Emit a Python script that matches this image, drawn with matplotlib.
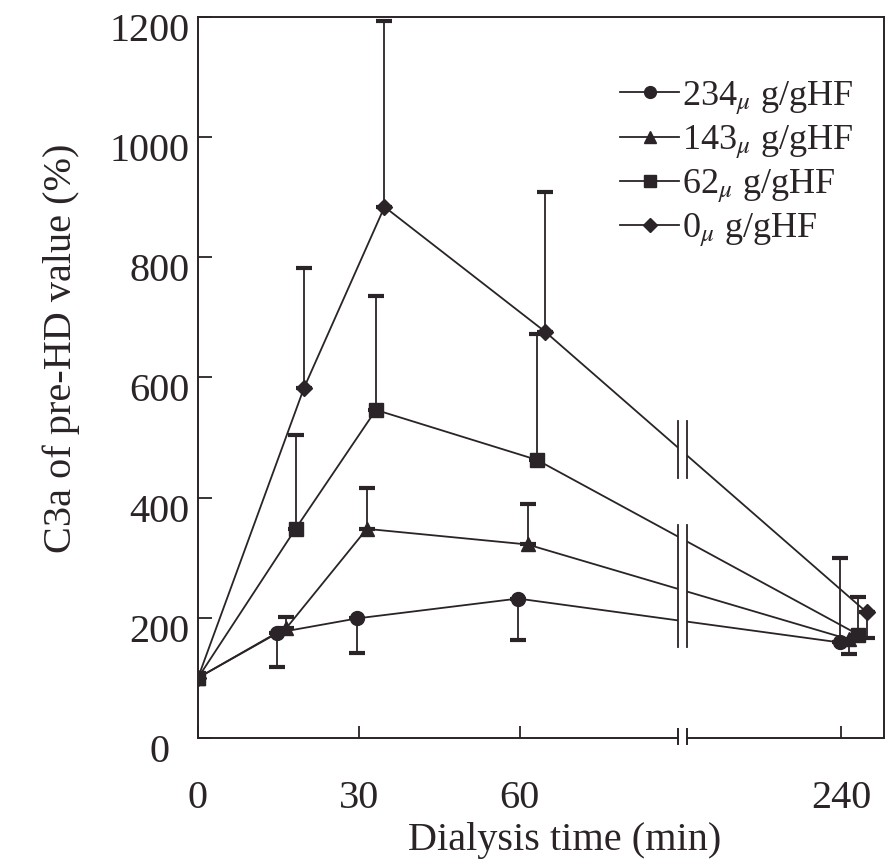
import numpy as np
import matplotlib
matplotlib.use("Agg")
import matplotlib.pyplot as plt
import matplotlib.transforms as mtransforms
from matplotlib.lines import Line2D

plt.rcParams['font.family'] = ['Liberation Serif', 'DejaVu Serif']
plt.rcParams['mathtext.fontset'] = 'stix'

# sampling times (min)
times = [0, 15, 30, 60, 240]

# C3a (% of pre-HD) per heparin dose
c3a_234 = [100, 175, 199, 232, 159]
c3a_143 = [100, 183, 348, 322, 164]
c3a_62 = [100, 348, 546, 463, 172]
c3a_0 = [100, 583, 884, 676, 209]

# one-sided SD bars (lower, upper)
err_234 = ([0, 57, 57, 69, 0], [0, 0, 0, 0, 141])
err_143 = ([0, 0, 0, 0, 25], [0, 19, 68, 68, 0])
err_62 = ([0, 0, 0, 0, 0], [0, 157, 189, 210, 63])
err_0 = ([0, 0, 0, 0, 42], [0, 200, 309, 232, 0])

labels = [r'234$_{\mu}$ g/gHF', r'143$_{\mu}$ g/gHF', r'62$_{\mu}$ g/gHF', r'0$_{\mu}$ g/gHF']
xtick_vals = [0, 30, 60, 240]
ytick_vals = [0, 200, 400, 600, 800, 1000, 1200]

INK = '#2a2327'
BRK_L, BRK_R = 89.6, 91.3
SHIFT_240 = 120  # 240 min is drawn at position 120 after the axis break


def to_pos(t, dodge):
    t = np.asarray(t, dtype=float)
    pos = np.where(t > 100, t - SHIFT_240, t)
    return pos + np.where(t > 0, dodge, 0.0)


fig = plt.figure(figsize=(8.89, 8.63), dpi=100)
ax = fig.add_axes([0.2227, 0.1449, 0.7717, 0.8354])

series = [
    (c3a_234, err_234, 'o', 10, -0.3),
    (c3a_143, err_143, '^', 10, 1.5),
    (c3a_62, err_62, 's', 10.5, 3.2),
    (c3a_0, err_0, 'D', 8, 4.8),
]

handles = []
for (vals, err, mk, ms, dodge), lab in zip(series, labels):
    x = to_pos(times, dodge)
    ax.plot(x, vals, color=INK, lw=1.3, zorder=2)
    lo = np.array(err[0], dtype=float)
    hi = np.array(err[1], dtype=float)
    mask = (lo + hi) > 0
    ax.errorbar(x[mask], np.array(vals)[mask], yerr=[lo[mask], hi[mask]],
                fmt='none', ecolor=INK, elinewidth=1.3, capsize=5.8, capthick=3.0,
                zorder=2)
    ax.plot(x, vals, ls='none', marker=mk, ms=ms, color=INK, mec=INK, zorder=4)
    handles.append(Line2D([], [], color=INK, lw=1.3, marker=mk, ms=ms * 0.85, mec=INK))

# axis break: white gap through the lines, then double bars
ax.axvspan(BRK_L, BRK_R, ymin=0.02, ymax=0.95, color='white', lw=0, zorder=3)
for xb in (BRK_L, BRK_R):
    ax.plot([xb, xb], [433, 527], color=INK, lw=1.3, zorder=3.5)
    ax.plot([xb, xb], [152, 354], color=INK, lw=1.3, zorder=3.5)

ax.set_xlim(0, 128)
ax.set_ylim(0, 1200)

# bottom spine redrawn with the break
ax.spines['bottom'].set_visible(False)
trans = mtransforms.blended_transform_factory(ax.transData, ax.transAxes)
ax.plot([0, BRK_L], [0, 0], color=INK, lw=1.4, transform=trans, clip_on=False)
ax.plot([BRK_R, 128], [0, 0], color=INK, lw=1.4, transform=trans, clip_on=False)
for xb in (BRK_L, BRK_R):
    ax.plot([xb, xb], [-0.009, 0.012], color=INK, lw=1.4, transform=trans, clip_on=False)

for side in ('left', 'top', 'right'):
    ax.spines[side].set_color(INK)
    ax.spines[side].set_linewidth(1.4)

ax.set_xticks(to_pos(xtick_vals, 0.0))
ax.set_xticklabels([str(v) for v in xtick_vals])
ax.set_yticks(ytick_vals)
ax.set_yticklabels([str(v) for v in ytick_vals])
ax.tick_params(axis='x', direction='in', length=9, width=1.3, color=INK,
               labelsize=29, pad=30, labelcolor=INK)
ax.tick_params(axis='y', direction='in', length=10, width=1.3, color=INK,
               labelsize=29, pad=6, labelcolor=INK)

# y tick labels sit a little below their ticks in the original
for lbl in ax.get_yticklabels():
    dx = -20 / 100 if lbl.get_text() == '0' else 0
    offset = mtransforms.ScaledTranslation(dx, -10 / 100, fig.dpi_scale_trans)
    lbl.set_transform(lbl.get_transform() + offset)

ax.set_xlabel('Dialysis time (min)', fontsize=29, color=INK)
ax.xaxis.set_label_coords(0.535, -0.117)
ax.xaxis.label.set_va('top')
ax.set_ylabel('C3a of pre-HD value (%)', fontsize=29, color=INK)
ax.yaxis.set_label_coords(-0.2, 0.54)
ax.yaxis.label.set_va('center')

ax.legend(handles, labels, loc='upper left', bbox_to_anchor=(0.615, 0.914),
          frameon=False, fontsize=26, handlelength=1.65, handletextpad=0.08,
          labelspacing=0.17, borderpad=0, borderaxespad=0, labelcolor=INK)

fig.savefig('out.png', dpi=100, facecolor='white')
